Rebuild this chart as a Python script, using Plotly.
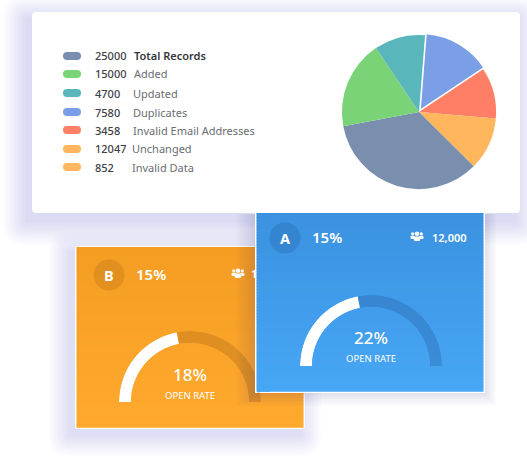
import plotly.graph_objects as go

W, H = 527, 456
FONT = "Noto Sans"

# ---------- data ----------
legend_values = ["25000", "15000", "4700", "7580", "3458", "12047", "852"]
legend_labels = ["Total Records", "Added", "Updated", "Duplicates",
                 "Invalid Email Addresses", "Unchanged", "Invalid Data"]
legend_colors = ["#7A8FAD", "#7AD477", "#59B6BA", "#7A9FE6", "#FF7F66", "#FFB65C", "#FFB65C"]
pie_labels = ["Duplicates", "Invalid Email Addresses", "Unchanged", "Total Records", "Added", "Updated"]
pie_shares = [14.4, 10.7, 11.1, 34.6, 18.5, 10.7]
pie_colors = ["#7A9FE6", "#FF7F66", "#FFB65C", "#7A8FAD", "#7AD477", "#59B6BA"]
pie_pull = [0.025, 0, 0, 0, 0, 0]
gauge_a_arc = [44, 56]
gauge_b_arc = [44, 56]

shapes, annots = [], []
fx = lambda x: x / W
fy = lambda y: 1 - y / H


def rect(x0, y0, x1, y1, color, layer="below"):
    shapes.append(dict(type="rect", xref="paper", yref="paper", x0=fx(x0), x1=fx(x1),
                       y0=fy(y0), y1=fy(y1), fillcolor=color, line_width=0, layer=layer))


def rr_path(x0, y0, x1, y1, r):
    X, Y = fx, fy
    return (f"M{X(x0+r)},{Y(y0)} L{X(x1-r)},{Y(y0)} Q{X(x1)},{Y(y0)} {X(x1)},{Y(y0+r)} "
            f"L{X(x1)},{Y(y1-r)} Q{X(x1)},{Y(y1)} {X(x1-r)},{Y(y1)} L{X(x0+r)},{Y(y1)} "
            f"Q{X(x0)},{Y(y1)} {X(x0)},{Y(y1-r)} L{X(x0)},{Y(y0+r)} Q{X(x0)},{Y(y0)} {X(x0+r)},{Y(y0)} Z")


def rrect(x0, y0, x1, y1, r, color, layer="below"):
    shapes.append(dict(type="path", xref="paper", yref="paper", path=rr_path(x0, y0, x1, y1, r),
                       fillcolor=color, line_width=0, layer=layer))


def circle(cx, cy, r, color, layer="below"):
    shapes.append(dict(type="circle", xref="paper", yref="paper", x0=fx(cx - r), x1=fx(cx + r),
                       y0=fy(cy - r), y1=fy(cy + r), fillcolor=color, line_width=0, layer=layer))


def shadow(x0, y0, x1, y1, spread, dx, dy, alpha):
    for k in range(spread, 0, -2):
        rrect(x0 - k + dx, y0 - k + dy, x1 + k + dx, y1 + k + dy, k, f"rgba(80,110,190,{alpha})")


def mix(c0, c1, t):
    return "rgb(" + ",".join(str(round(a + (b - a) * t)) for a, b in zip(c0, c1)) + ")"


def text(x, y, s, size, color="#FFFFFF", anchor="left", weight=400):
    annots.append(dict(xref="paper", yref="paper", x=fx(x), y=fy(y), text=s, showarrow=False,
                       xanchor=anchor, yanchor="middle",
                       font=dict(family=FONT, size=size, color=color, weight=weight)))


def users_icon(cx, cy):
    for dx, r in ((-4.3, 1.6), (4.3, 1.6)):
        circle(cx + dx, cy - 2.2, r, "#FFFFFF")
        rrect(cx + dx - 2.2, cy - 0.3, cx + dx + 2.2, cy + 3, 1.2, "#FFFFFF")
    circle(cx, cy - 2.3, 2.3, "#FFFFFF")
    rrect(cx - 3.2, cy + 0.4, cx + 3.2, cy + 5, 1.5, "#FFFFFF")


# ---------- background layers: top-card shadow, orange card ----------
shadow(32, 12, 520, 213, 24, -5, 8, 0.02)
shadow(76, 247, 304, 428, 22, -5, 6, 0.02)

ORANGE_TOP, ORANGE_BOT = (245, 157, 35), (255, 169, 46)
BLUE_TOP, BLUE_BOT = (58, 145, 224), (71, 167, 245)

rrect(75, 246, 305, 429, 3, "#FFFFFF")
for y in range(247, 428, 3):
    rect(76.5, y, 303.5, min(y + 3.4, 427.5), mix(ORANGE_TOP, ORANGE_BOT, (y - 247) / 181))
circle(109, 275, 15.5, "rgba(120,70,0,0.16)")
users_icon(238, 273)
text(109, 274.5, "B", 14.5, anchor="center", weight=700)
text(134, 274, "15%", 15, weight=600)
text(249, 273, "1", 11, weight=600)
text(190, 374, "18%", 17, anchor="center", weight=500)
text(190, 395, "OPEN RATE", 9.5, anchor="center")

# ---------- blue card ----------
rrect(255, 200, 485, 393, 3, "#FFFFFF")
for y in range(205, 392, 3):
    rect(256.5, y, 483.5, min(y + 3.4, 391.5), mix(BLUE_TOP, BLUE_BOT, (y - 205) / 187))
circle(285, 238, 15.5, "rgba(20,60,120,0.17)")
users_icon(417, 236)
text(285, 238, "A", 14.5, anchor="center", weight=700)
text(310, 237, "15%", 15, weight=600)
text(430, 237, "12,000", 11, weight=600)
text(371, 337, "22%", 17, anchor="center", weight=500)
text(371, 358, "OPEN RATE", 9.5, anchor="center")

# ---------- top card ----------
rrect(32, 12, 520, 213, 4, "#FFFFFF")
row_y = [56, 74, 93, 112, 130, 149, 167]
label_x = [132, 132, 131, 131, 131, 130, 130]
for i, y in enumerate(row_y):
    rrect(63, y - 4, 81, y + 4, 4, legend_colors[i])
    text(93, y, legend_values[i], 11, color="#3E4146", weight=500)
    text(label_x[i], y, legend_labels[i], 11,
         color="#33363B" if i == 0 else "#6A6D72", weight=600 if i == 0 else 400)

# ---------- parts that lie over the orange gauge ----------
X, Y = fx, fy
for k in range(20, 0, -2):
    outer = (f"M{X(256-k)},{Y(214)} L{X(484+k*0.6)},{Y(214)} L{X(484+k*0.6)},{Y(392+k*0.7)} "
             f"L{X(256-k)},{Y(392+k*0.7)} Z")
    inner = f"M{X(255)},{Y(214)} L{X(485)},{Y(214)} L{X(485)},{Y(393)} L{X(255)},{Y(393)} Z"
    shapes.append(dict(type="path", xref="paper", yref="paper", path=outer + " " + inner,
                       fillcolor="rgba(40,50,100,0.016)", line_width=0, layer="above"))
rect(255, 325, 257, 393, "#FFFFFF", layer="above")
for y in range(325, 392, 3):
    rect(256.5, y, 270, min(y + 3.4, 391.5), mix(BLUE_TOP, BLUE_BOT, (y - 205) / 187), layer="above")

# ---------- figure ----------
fig = go.Figure()
PIE_R = 79
fig.add_trace(go.Pie(
    labels=pie_labels, values=pie_shares, sort=False, direction="clockwise", rotation=4.5,
    pull=pie_pull, textinfo="none", hoverinfo="label+percent", showlegend=False,
    marker=dict(colors=pie_colors, line=dict(color="#FFFFFF", width=[1.5, 0, 0, 0, 0, 0])),
    domain=dict(x=[fx(419 - PIE_R), fx(419 + PIE_R)], y=[fy(112 + PIE_R), fy(112 - PIE_R)]),
))


def gauge(arc, subplot, track):
    lo, hi = arc[0] * 1.8, arc[1] * 1.8
    fig.add_trace(go.Barpolar(r=[1, 1], theta=[lo / 2, lo + hi / 2], width=[lo, hi],
                              marker=dict(color=["#FFFFFF", track], line_width=0),
                              subplot=subplot, showlegend=False, hoverinfo="skip"))


gauge(gauge_b_arc, "polar", "rgba(90,50,0,0.17)")
gauge(gauge_a_arc, "polar2", "rgba(20,50,110,0.2)")


def polar_layout(cx, base, R=71):
    return dict(domain=dict(x=[fx(cx - R), fx(cx + R)], y=[fy(base), fy(base - R)]),
                sector=[0, 180], hole=59 / 71, bgcolor="rgba(0,0,0,0)",
                radialaxis=dict(visible=False, range=[0, 1]),
                angularaxis=dict(visible=False, rotation=180, direction="clockwise"))


fig.update_layout(width=W, height=H, margin=dict(l=0, r=0, t=0, b=0), paper_bgcolor="#FFFFFF",
                  plot_bgcolor="rgba(0,0,0,0)", showlegend=False, shapes=shapes, annotations=annots,
                  polar=polar_layout(190, 402), polar2=polar_layout(371, 366))
fig.write_html("out.html", config=dict(displayModeBar=False),
               post_script="document.body.style.margin='0';document.body.style.overflow='hidden';")
